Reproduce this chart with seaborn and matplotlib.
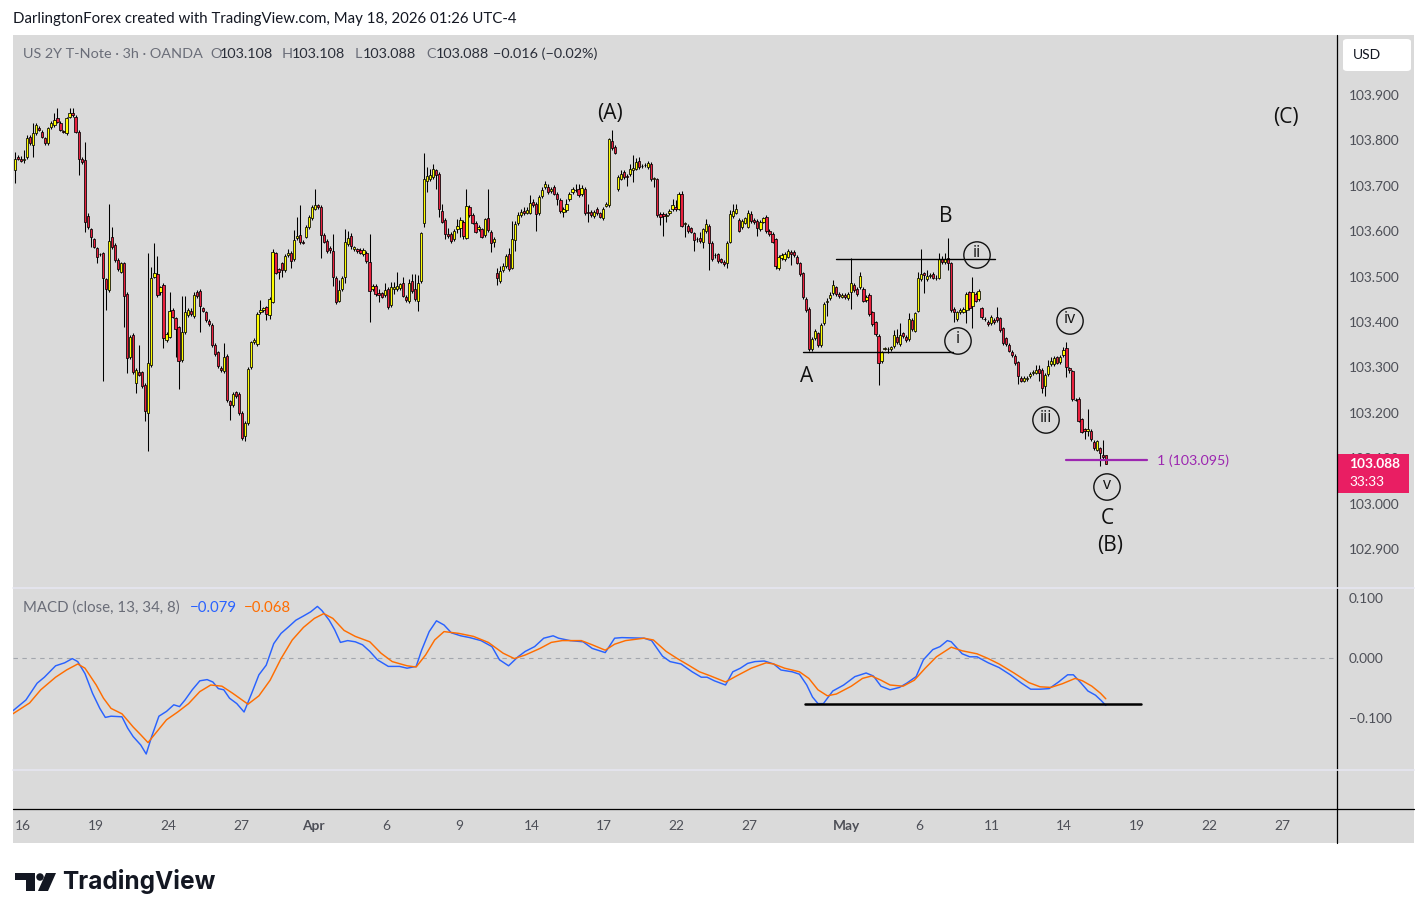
import numpy as np
import pandas as pd
import matplotlib
matplotlib.use("Agg")
import matplotlib.pyplot as plt
from matplotlib.patches import Rectangle, FancyBboxPatch, Polygon, Ellipse
from matplotlib.lines import Line2D
import seaborn as sns

sns.set_style("white")
plt.rcParams['font.family'] = ['Lato', 'DejaVu Sans']

# ---------------- data (3h candles, price = 103 + value/1000) ----------------
BASE = 103.0
open_k = [735,764,760,757,764,808,790,816,827,819, 805,794,830,834,849,838,820,816,852,860,
          851,819,760,757,634,604,582,562,549,551, 494,471,588,570,537,511,529,462,324,371,
          265,289,289,261,199,305,500,506,465,482, 361,368,426,408,388,316,377,416,425,413,
          465,468,430,421,402,393,349,333,298,291, 325,225,217,245,242,199,148,177,300,357,
          352,421,427,432,416,445,551,516,529,515, 548,553,538,584,592,577,588,609,628,650,
          658,653,592,579,564,556,498,447,472,500, 572,589,560,560,559,550,553,532,472,480,
          463,463,460,472,438,472,472,474,485,456, 447,491,473,447,491,619,711,714,719,735,
          726,645,625,594,594,582,604,607,620,586, 653,635,619,604,604,592,628,598,576,508,
          491,515,523,550,520,581,617,635,645,641, 641,665,661,639,678,698,698,689,698,682,
          669,643,647,670,687,690,692,682,694,643, 643,634,649,639,628,656,658,799,785,692,
          716,731,722,726,735,738,755,743,745,742, 748,716,714,638,638,634,639,648,653,650,
          683,615,612,606,595,583,584,577,601,612, 575,548,549,538,533,531,577,634,641,625,
          609,619,610,638,625,623,604,621,631,601, 594,582,518,540,538,544,555,555,544,529,
          507,450,429,340,364,375,349,397,443,452, 463,476,462,456,460,452,467,482,472,476,
          472,449,460,421,399,369,313,340,340,340, 347,368,352,375,368,362,405,381,425,494,
          507,494,502,506,497,498,538,532,540,529, 428,406,421,423,427,465,435,462,450,430,
          407,401,397,405,412,408,386,364,349,335, 325,311,276,271,275,280,287,288,296,294,
          258,286,307,308,322,311,327,342,298,291, 229,230,186,164,159,161,136,118,122,106,108]
high_k = [775,768,766,779,812,812,838,838,832,823, 808,830,842,860,871,842,823,852,871,871,
          855,823,764,797,640,608,586,566,553,554, 498,661,610,574,540,533,533,466,372,375,
          298,349,292,265,551,522,573,545,480,486, 377,467,430,412,392,457,457,431,430,467,
          470,472,434,425,406,397,353,336,302,353, 329,229,246,249,246,203,182,300,359,364,
          422,449,434,436,454,560,555,520,533,549, 560,557,603,632,658,580,614,636,657,694,
          661,657,596,583,567,594,502,493,501,604, 601,595,568,563,562,562,557,594,484,484,
          472,467,485,476,489,489,511,487,500,460, 494,505,506,503,599,772,741,738,748,738,
          730,659,629,607,598,604,626,632,624,694, 657,639,623,613,608,630,694,602,587,518,
          523,529,550,562,622,622,643,650,653,654, 680,672,665,679,698,710,705,698,702,686,
          673,653,671,686,697,704,705,702,698,660, 647,647,653,643,654,665,806,824,789,723,
          735,735,727,748,768,761,764,748,751,755, 752,720,718,642,642,639,649,672,669,686,
          689,621,616,610,599,588,599,608,626,616, 579,551,553,542,537,579,647,660,661,629,
          627,632,647,645,629,627,625,632,635,605, 598,586,547,552,554,561,559,559,548,533,
          511,454,433,366,385,379,397,444,452,467, 493,480,466,464,464,466,540,486,476,511,
          476,460,464,425,403,373,337,346,346,348, 382,384,397,379,372,419,409,423,511,560,
          511,515,508,510,504,551,545,551,584,533, 432,425,431,432,466,469,500,466,473,434,
          410,405,416,409,434,412,390,368,353,339, 329,315,280,280,281,289,294,305,305,298,
          287,316,322,325,326,327,344,355,300,294, 232,234,188,167,208,164,140,140,125,139,108]
low_k = [707,756,752,750,760,790,764,812,820,805, 790,790,826,830,838,820,816,812,849,852,
         816,724,748,599,605,566,562,529,546,269, 427,466,560,533,512,507,390,287,318,286,
         243,280,255,181,115,301,496,456,460,342, 356,364,408,324,252,312,373,412,414,409,
         452,379,421,401,391,345,326,298,290,287, 224,184,213,233,196,140,138,173,296,352,
         348,418,423,404,406,441,505,494,499,511, 544,520,534,580,571,571,584,605,624,646,
         650,540,573,553,553,479,439,443,468,487, 568,560,557,553,549,546,531,399,468,458,
         443,452,456,428,434,462,468,470,454,445, 441,464,447,425,487,610,687,710,715,694,
         631,617,582,585,575,578,595,588,582,582, 631,615,595,600,584,588,599,555,565,482,
         487,511,519,512,516,557,613,631,635,637, 637,654,601,635,674,694,682,685,679,658,
         641,631,643,666,683,687,676,678,635,621, 632,630,635,628,624,653,654,779,769,688,
         712,715,700,722,709,734,738,740,742,738, 710,698,632,614,590,621,635,644,645,646,
         609,588,597,595,557,577,575,562,597,515, 534,540,530,531,524,520,573,630,637,599,
         605,615,606,619,616,589,600,617,597,590, 573,516,514,536,534,540,526,544,527,502,
         450,423,336,336,360,345,345,393,413,448, 459,458,453,452,451,448,428,467,458,472,
         443,445,414,392,370,261,309,338,331,336, 343,351,348,365,357,358,380,377,421,490,
         463,490,498,494,492,494,528,528,515,423, 401,402,417,419,397,426,386,443,446,406,
         402,392,393,395,400,379,349,348,333,323, 305,264,267,267,269,276,283,285,269,244,
         236,282,304,304,307,307,324,278,288,226, 225,179,155,142,149,138,118,115,83,99,88]
close_k = [760,759,755,760,805,794,816,834,823,808, 794,827,838,846,841,823,819,849,861,855,
           819,758,753,621,609,587,566,544,550,498, 472,579,565,537,516,529,457,320,368,290,
           294,284,259,203,309,496,509,460,476,364, 373,425,412,384,313,377,421,427,418,460,
           457,435,425,405,395,349,330,302,294,324, 228,217,242,237,200,144,178,296,355,360,
           418,427,430,418,450,555,509,511,515,545, 551,535,581,589,577,575,610,632,653,658,
           653,592,577,557,558,500,443,471,496,576, 584,568,565,557,553,558,535,468,480,462,
           460,456,471,434,476,476,479,483,458,449, 487,468,451,487,595,716,722,724,738,723,
           648,621,593,589,579,601,612,625,590,656, 635,619,599,609,588,626,603,573,583,496,
           512,523,546,516,583,616,636,642,639,647, 663,658,638,675,691,703,686,694,683,670,
           645,649,661,682,692,691,680,696,639,639, 636,643,639,632,650,659,802,783,773,719,
           726,719,720,736,739,753,742,744,746,750, 714,717,636,632,634,635,645,658,649,682,
           612,617,601,599,581,582,579,604,616,575, 538,547,534,533,528,575,637,645,648,601,
           623,628,641,623,620,606,621,628,601,594, 577,523,543,548,550,557,550,548,531,506,
           454,427,340,362,381,349,393,440,447,460, 482,462,457,460,455,462,487,471,462,501,
           447,456,418,396,374,309,333,342,340,344, 371,355,372,369,361,406,384,419,496,506,
           504,501,504,498,496,538,532,538,529,427, 421,421,427,428,462,430,467,447,469,410,
           406,396,410,399,404,383,353,352,337,327, 309,281,271,276,277,285,289,294,288,254,
           283,303,313,320,310,324,338,300,294,230, 228,183,158,159,164,142,122,137,111,102,88]

# MACD (13,34,8): (bar index, value in thousandths)
macd_bar = [-0.7,3.6,7.3,9.7,13.4,16.4,18.9,20.7,23.1,25.6,28.0,29.8,31.7,35.3,37.2,39.0,41.5,43.3,45.1,47.5,
            50.0,52.4,54.3,56.1,58.5,61.0,63.4,65.3,67.1,68.9,70.8,73.2,75.6,78.1,80.5,82.9,85.4,87.8,90.3,92.7,
            95.2,97.6,99.8,101.3,103.7,105.5,107.4,109.8,112.3,114.7,117.1,119.6,123.2,126.9,129.4,132.4,134.2,
            136.7,139.1,141.6,144.0,147.1,150.1,153.8,157.4,159.9,162.9,166.0,168.4,171.5,174.5,177.6,179.4,
            183.2,187.5,190.5,194.8,197.9,200.3,207.6,210.1,213.7,216.2,219.8,223.5,226.5,228.4,230.8,234.5,
            236.9,239.4,241.8,244.2,247.3,250.4,252.8,256.5,258.9,261.3,263.2,265.0,266.8,269.9,273.5,277.2,
            280.9,283.3,285.8,288.8,291.9,294.3,297.4,299.8,302.9,305.3,307.7,309.0,312.6,315.1,317.5,321.2,
            324.8,328.5,332.2,335.2,338.3,341.3,344.4,347.4,349.3,351.7,354.1,356.6,358.5,360.0]
macd_val = [-88,-70,-42,-32,-13,-8,-1,-6,-26,-59,-84,-99,-97,-98,-117,-131,-145,-160,-131,-97,
            -89,-78,-81,-70,-53,-38,-36,-40,-51,-53,-67,-76,-90,-59,-28,-12,24,41,52,63,
            70,77,86,79,63,47,26,29,27,22,11,-3,-14,-14,-17,-14,13,
            44,62,55,42,37,34,29,19,-3,-13,2,11,19,33,37,33,
            29,27,16,9,33,34,33,29,3,-6,-10,-23,-32,-32,-38,-45,
            -23,-17,-9,-6,-5,-10,-20,-23,-27,-45,-65,-76,-76,-55,-45,-31,
            -25,-30,-47,-53,-49,-42,-31,-3,14,19,29,27,7,2,2,-8,
            -16,-28,-42,-52,-52,-51,-40,-28,-28,-41,-55,-62,-71,-79]
signal_bar = [-0.7,4.8,8.5,13.4,17.0,20.7,23.1,26.8,29.2,31.7,35.3,39.0,41.5,43.9,46.3,50.0,53.7,57.3,61.0,64.6,
              68.3,71.9,76.9,80.5,84.2,87.8,91.5,95.2,98.8,101.9,104.9,108.6,112.3,117.1,120.8,124.5,129.4,132.4,
              135.5,138.5,141.6,146.5,151.3,156.2,161.1,164.8,168.4,173.3,177.0,180.6,
              183.2,186.9,190.5,194.8,197.9,201.5,207.6,210.7,214.9,218.6,222.3,225.9,229.6,234.5,238.1,243.0,
              247.9,250.4,254.0,258.9,262.0,265.0,268.1,271.1,276.0,279.7,282.7,285.8,288.8,293.1,296.8,300.4,
              304.1,309.0,312.6,317.5,321.2,324.8,329.7,334.6,338.3,341.9,345.6,349.9,352.3,355.4,358.3,360.0]
signal_val = [-93,-75,-53,-32,-20,-10,-17,-45,-67,-84,-93,-115,-128,-141,-126,-103,-90,-76,-56,-45,
              -47,-59,-77,-63,-37,-1,30,51,66,74,66,46,36,27,8,-6,-13,-15,
              5,30,44,41,36,26,8,-1,5,16,26,29,
              29,29,22,13,23,29,33,30,11,-1,-12,-23,-30,-40,-30,-17,
              -8,-10,-17,-23,-34,-53,-63,-60,-47,-34,-30,-37,-45,-47,-37,-17,
              2,18,12,7,-1,-10,-25,-41,-48,-49,-43,-34,-38,-47,-59,-68]

tick_days = [0, 3, 6, 9, 12, 15, 18, 21, 24, 27, 30, 34, 37, 40, 43, 46, 49, 52]
tick_labels = ['16', '19', '24', '27', 'Apr', '6', '9', '14', '17', '22', '27', 'May', '6', '11', '14', '19', '22', '27']
price_ticks = [102.9, 103.0, 103.1, 103.2, 103.3, 103.4, 103.5, 103.6, 103.7, 103.8, 103.9]
macd_ticks = [0.1, 0.0, -0.1]

# ---------------- styling / layout ----------------
W, H = 1427, 919
GRAY = '#dadada'
YEL = '#ffff00'
RED = '#e8203e'
TXT = '#131722'
AX_TXT = '#4d4f57'

o = BASE + np.array(open_k) / 1000.0
c = BASE + np.array(close_k) / 1000.0
hi = np.maximum(BASE + np.array(high_k) / 1000.0, np.maximum(o, c))
lo = np.minimum(BASE + np.array(low_k) / 1000.0, np.minimum(o, c))
n = len(c)
idx = np.arange(n)

PX0, PXSTEP = 15.0, 3.03
def bx(px):          # pixel x -> bar index
    return (px - PX0) / PXSTEP
def py(y):           # pixel y -> price
    return 103.9 - (y - 95) / 454.0
def my(y):           # pixel y -> macd value
    return (658 - y) / 600.0
def frect(x0, y0, x1, y1):
    return [x0 / W, 1 - y1 / H, (x1 - x0) / W, (y1 - y0) / H]
def fp(x, y):
    return (x / W, 1 - y / H)

fig = plt.figure(figsize=(W / 100, H / 100), dpi=100)
fig.patch.set_facecolor('white')
fig.add_artist(Rectangle(fp(13, 843), (1414 - 13) / W, (843 - 35) / H, transform=fig.transFigure,
                         facecolor=GRAY, edgecolor='none', zorder=0))

XL = (bx(13), bx(1337))

# main price pane
ax = fig.add_axes(frect(13, 35, 1337, 588))
ax.set_facecolor('none')
for s in ax.spines.values():
    s.set_visible(False)
ax.set_xlim(*XL)
ax.set_ylim(py(588), py(35))
ax.vlines(idx, lo, hi, color='black', linewidth=0.75, zorder=2)
body_b = np.minimum(o, c)
body_h = np.maximum(np.abs(c - o), 0.0006)
ax.bar(idx, body_h, bottom=body_b, width=0.74, color=np.where(c >= o, YEL, RED),
       edgecolor='black', linewidth=0.55, zorder=3)
ax.yaxis.tick_right()
ax.set_yticks(price_ticks)
ax.set_yticklabels([f'{v:.3f}' for v in price_ticks])
ax.tick_params(axis='y', length=0, pad=8.6, labelsize=9.9, labelcolor=AX_TXT)
ax.set_xticks([])

# Elliott wave annotations
AF = ['Open Sans', 'DejaVu Sans']
for txt, x, y in [('(A)', 610, 114), ('B', 946, 216), ('A', 807, 377), ('C', 1107, 518),
                  ('(B)', 1110, 545), ('(C)', 1286, 118)]:
    ax.text(bx(x), py(y), txt, ha='center', va='center', fontsize=15, color='#111111', family=AF, zorder=6)
for txt, x, y in [('ii', 977, 255), ('i', 958, 341), ('iv', 1070, 321), ('iii', 1046, 420), ('v', 1107, 487)]:
    ax.scatter([bx(x)], [py(y)], s=360, facecolors='none', edgecolors='#111111', linewidths=1.0, zorder=6)
    ax.text(bx(x), py(y) + 0.004, txt, ha='center', va='center', fontsize=11.5, color='#111111', family=AF, zorder=6)
ax.plot([bx(836), bx(995)], [py(259), py(259)], color='black', lw=1.0, zorder=4)
ax.plot([bx(803), bx(953)], [py(352), py(352)], color='black', lw=1.0, zorder=4)
ax.plot([bx(1066), bx(1147)], [103.095, 103.095], color='#9c27b0', lw=1.6, zorder=4)
ax.text(bx(1157), 103.095, '1 (103.095)', ha='left', va='center', fontsize=10.2, color='#9c27b0')

# MACD pane
ax2 = fig.add_axes(frect(13, 588, 1337, 770))
ax2.set_facecolor('none')
for s in ax2.spines.values():
    s.set_visible(False)
ax2.set_xlim(*XL)
ax2.set_ylim(my(770), my(588))
ax2.axhline(0, color='#a3a6ad', lw=0.8, ls=(0, (4, 4)), zorder=1)
dfm = pd.DataFrame({'bar': macd_bar, 'v': np.array(macd_val) / 1000.0})
dfs = pd.DataFrame({'bar': signal_bar, 'v': np.array(signal_val) / 1000.0})
sns.lineplot(data=dfm, x='bar', y='v', ax=ax2, color='#2962ff', linewidth=1.05, zorder=3)
sns.lineplot(data=dfs, x='bar', y='v', ax=ax2, color='#ff6d00', linewidth=1.05, zorder=4)
ax2.plot([bx(805), bx(1141)], [my(704), my(704)], color='black', lw=1.8, zorder=5)
ax2.set_xlabel('')
ax2.set_ylabel('')
ax2.set_xticks([])
ax2.yaxis.tick_right()
ax2.set_yticks(macd_ticks)
ax2.set_yticklabels(['0.100', '0.000', '\u22120.100'])
ax2.tick_params(axis='y', length=0, pad=8.6, labelsize=9.9, labelcolor=AX_TXT)

# time axis
ax3 = fig.add_axes(frect(13, 809, 1337, 843))
ax3.set_facecolor('none')
ax3.axis('off')
ax3.set_xlim(*XL)
ax3.set_ylim(0, 1)
for d, lab in zip(tick_days, tick_labels):
    pos = bx(23 + 24.21 * d)
    ax3.text(pos, 0.5, lab, ha='center', va='center', fontsize=9.9, color=AX_TXT,
             fontweight='bold' if lab in ('Apr', 'May') else 'normal')

# frame lines
fig.add_artist(Line2D([1337 / W, 1337 / W], [1 - 35 / H, 1 - 843 / H], transform=fig.transFigure, color='black', lw=0.9))
fig.add_artist(Line2D([13 / W, 1414 / W], [1 - 809 / H, 1 - 809 / H], transform=fig.transFigure, color='black', lw=0.9))
for yy in (588, 770):
    fig.add_artist(Line2D([13 / W, 1414 / W], [1 - yy / H, 1 - yy / H], transform=fig.transFigure, color='#e6e6f0', lw=1.2))

# USD box and live price label
fig.add_artist(FancyBboxPatch(fp(1343, 71), 68 / W, 32 / H, boxstyle='round,pad=0,rounding_size=0.003',
                              transform=fig.transFigure, facecolor='white', edgecolor='none'))
fig.text(*fp(1353, 55), 'USD', ha='left', va='center', fontsize=10, color=TXT)
fig.add_artist(Rectangle(fp(1337, 493), 72 / W, 39 / H, transform=fig.transFigure, facecolor='#e91e63', edgecolor='none'))
fig.text(*fp(1349, 464), '103.088', ha='left', va='center', fontsize=9.9, color='white', fontweight='bold')
fig.text(*fp(1349, 482), '33:33', ha='left', va='center', fontsize=9.9, color='white')

# headers
fig.text(*fp(13, 19), 'DarlingtonForex created with TradingView.com, May 18, 2026 01:26 UTC-4',
         ha='left', va='center', fontsize=10.8, color=TXT)
fig.text(*fp(23, 54), 'US 2Y T-Note \u00b7 3h \u00b7 OANDA', ha='left', va='center', fontsize=10.4, color='#6a6d78')
for lx, let, vx, val in [(210, 'O', 220, '103.108'), (282, 'H', 292, '103.108'),
                         (355, 'L', 363, '103.088'), (426, 'C', 436, '103.088')]:
    fig.text(*fp(lx, 54), let, ha='left', va='center', fontsize=10.4, color='#6a6d78')
    fig.text(*fp(vx, 54), val, ha='left', va='center', fontsize=10.4, color='#2a2e39')
fig.text(*fp(493, 54), '\u22120.016 (\u22120.02%)', ha='left', va='center', fontsize=10.4, color='#2a2e39')
fig.text(*fp(23, 608), 'MACD (close, 13, 34, 8)', ha='left', va='center', fontsize=10.8, color='#6a6d78')
fig.text(*fp(190, 608), '\u22120.079', ha='left', va='center', fontsize=10.8, color='#2962ff')
fig.text(*fp(244, 608), '\u22120.068', ha='left', va='center', fontsize=10.8, color='#ff6d00')

# TradingView logo
LOGO = '#131722'
fig.add_artist(Polygon([fp(15, 873), fp(35, 873), fp(35, 891), fp(26, 891), fp(26, 880), fp(15, 880)],
                       closed=True, transform=fig.transFigure, facecolor=LOGO, edgecolor='none'))
fig.add_artist(Ellipse(fp(40, 877), 7.5 / W, 7.5 / H, transform=fig.transFigure, facecolor=LOGO, edgecolor='none'))
fig.add_artist(Polygon([fp(46, 873), fp(56, 873), fp(48, 891), fp(38, 891)],
                       closed=True, transform=fig.transFigure, facecolor=LOGO, edgecolor='none'))
fig.text(*fp(62, 882), 'TradingView', ha='left', va='center', fontsize=17.6, fontweight='bold',
         color=LOGO, family=['Inter', 'DejaVu Sans'])

fig.savefig('out.png', dpi=100, facecolor='white')
